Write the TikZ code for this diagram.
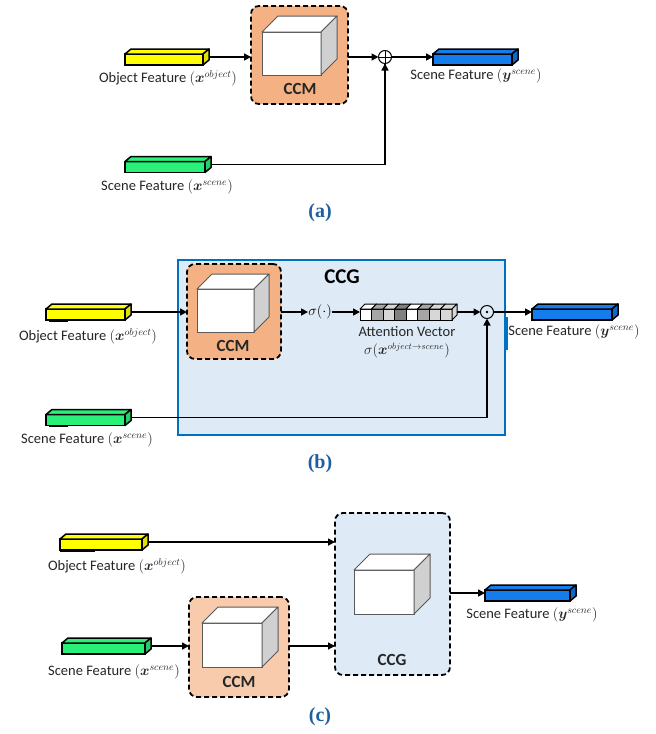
\documentclass[tikz,border=0pt]{standalone}
\usepackage{fontspec}
\usepackage{amsmath}
\usepackage{bm}
\setmainfont{Carlito}
\newfontfamily\capfont{Liberation Serif}
\usetikzlibrary{arrows.meta,calc}

\definecolor{featyellow}{RGB}{255,255,0}
\definecolor{featyellowside}{RGB}{225,225,0}
\definecolor{featgreen}{RGB}{40,240,120}
\definecolor{featgreenside}{RGB}{30,210,100}
\definecolor{featblue}{RGB}{20,125,235}
\definecolor{featblueside}{RGB}{15,105,205}
\definecolor{ccmorange}{RGB}{244,177,131}
\definecolor{ccmpeach}{RGB}{248,203,173}
\definecolor{ccgfill}{RGB}{222,235,247}
\definecolor{ccgborder}{RGB}{0,112,192}
\definecolor{capblue}{RGB}{31,95,160}
\definecolor{cubeside}{RGB}{208,208,208}
\definecolor{cubeedge}{RGB}{90,90,90}
\definecolor{labelgray}{RGB}{38,38,38}
\definecolor{cellmid}{RGB}{166,166,166}
\definecolor{celllight}{RGB}{215,215,215}
\definecolor{celldark}{RGB}{128,128,128}

\tikzset{
  barfront/.style={draw=black, line width=1.5, minimum height=11, inner sep=0, outer sep=0},
  barline/.style={draw=black, line width=1.5, line join=round},
  cubefront/.style={draw=cubeedge, line width=1, fill=white, inner sep=0, outer sep=0},
  cubeline/.style={draw=cubeedge, line width=1, line join=round},
  dashbox/.style={draw=black, line width=1.8, dash pattern=on 5pt off 3pt, rounded corners=8, inner sep=0, outer sep=0},
  arr/.style={line width=1.6, -{Triangle[length=7pt,width=7pt]}},
  thinarr/.style={line width=1.1, -{Triangle[length=7pt,width=7pt]}},
  plainline/.style={line width=1.3},
  lbl/.style={font=\fontsize{14.5}{17}\selectfont, text=labelgray, inner sep=0},
  boxtitle/.style={font=\fontsize{17}{20}\selectfont\bfseries, text=labelgray, inner sep=0},
  captext/.style={font=\fontsize{20}{24}\selectfont\capfont\bfseries, text=capblue, inner sep=0},
  opnode/.style={circle, draw=black, line width=1, minimum size=13, inner sep=0, outer sep=0},
}

% feature bar: name, centre of the front face, width, fill, side fill
\newcommand\featbar[5]{%
  \node[barfront, minimum width=#3, fill=#4] (#1) at #2 {};
  \draw[barline, fill=#4] (#1.north west) -- ++(6,-5) -- ($(#1.north east)+(6,-5)$) -- (#1.north east) -- cycle;
  \draw[barline, fill=#5] (#1.north east) -- ++(6,-5) -- ($(#1.south east)+(6,-5)$) -- (#1.south east) -- cycle;
  \coordinate (#1-out) at ($(#1.east)+(6,-2.5)$);
  \coordinate (#1-in) at ($(#1.west)+(0,-2.5)$);
}

% white cube: name, centre of the front face, width, height, depth
\newcommand\cubebox[5]{%
  \node[cubefront, minimum width=#3, minimum height=#4] (#1) at #2 {};
  \draw[cubeline, fill=white] (#1.north west) -- ++(#5,-#5) -- ($(#1.north east)+(#5,-#5)$) -- (#1.north east) -- cycle;
  \draw[cubeline, fill=cubeside] (#1.north east) -- ++(#5,-#5) -- ($(#1.south east)+(#5,-#5)$) -- (#1.south east) -- cycle;
}

\newcommand\xobj{$(\bm{x}^{object})$}
\newcommand\xscn{$(\bm{x}^{scene})$}
\newcommand\yscn{$(\bm{y}^{scene})$}

\begin{document}
\begin{tikzpicture}[x=1pt, y=-1pt]
\useasboundingbox[fill=white] (0,0) rectangle (656,734);

% ---------------- (a) ----------------
\node[dashbox, fill=ccmorange, minimum width=97, minimum height=98] (ccmA) at (299.5,55) {};
\cubebox{cubeA}{(291.5,53.5)}{59}{43}{16}
\node[boxtitle] (ccmAt) at (300,89) {CCM};

\featbar{objA}{(164,59.5)}{78}{featyellow}{featyellowside}
\node[lbl] (objAl) at (168,78) {Object Feature \xobj};
\featbar{sceneA}{(165,167)}{80}{featgreen}{featgreenside}
\node[lbl] (sceneAl) at (167,187) {Scene Feature \xscn};
\featbar{yA}{(472.5,59.5)}{79}{featblue}{featblueside}
\node[lbl] (yAl) at (476,76) {Scene Feature \yscn};

\node[opnode] (oplus) at (385,57) {};
\draw[line width=1] (oplus.west) -- (oplus.east) (oplus.north) -- (oplus.south);

\draw[arr] (objA-out) -- (objA-out -| ccmA.west);
\draw[arr] (objA-out -| ccmA.east) -- (oplus.west);
\draw[arr] (oplus.east) -- (oplus.east -| yA.west);
\draw[plainline] (sceneA-out) -| (oplus.south);
\draw[arr] ($(oplus.south)+(0,60)$) -- (oplus.south);

\node[captext] (capA) at (320,213) {(a)};

% ---------------- (b) ----------------
\node[draw=ccgborder, line width=2.6, fill=ccgfill, minimum width=327, minimum height=175, inner sep=0, outer sep=0] (ccgB) at (341.5,347.5) {};
\draw[ccgborder, line width=4] (505.5,317) -- (505.5,350);
\node[font=\fontsize{21}{24}\selectfont\bfseries, text=black, inner sep=0] (ccgBt) at (342,277) {CCG};

\node[dashbox, fill=ccmorange, minimum width=94, minimum height=95] (ccmB) at (234,311.5) {};
\cubebox{cubeB}{(225.5,310.5)}{57}{43}{15}
\node[boxtitle] (ccmBt) at (233,346) {CCM};

\featbar{objB}{(85.5,314.5)}{79}{featyellow}{featyellowside}
\draw[line width=2.5] (49,320.5) -- (68,320.5);
\node[lbl] (objBl) at (88,336) {Object Feature \xobj};
\featbar{sceneB}{(85.5,420)}{79}{featgreen}{featgreenside}
\draw[line width=2.5] (49,426) -- (68,426);
\node[lbl] (sceneBl) at (87,440) {Scene Feature \xscn};
\featbar{yB}{(572,314.5)}{80}{featblue}{featblueside}
\node[lbl] (yBl) at (574,332) {Scene Feature \yscn};

\node[lbl, text=black] (sigma) at (320,312) {$\sigma(\cdot)$};

% attention vector
\foreach \c [count=\i] in {white,cellmid,celllight,celldark,white,cellmid,celllight,celllight}{
  \node[barfront, line width=1, minimum width=11.5, fill=\c] (att\i) at ({360+11.5*(\i-0.5)},314.5) {};
  \draw[line width=1, fill=\c, line join=round] (att\i.north west) -- ++(5,-5) -- ($(att\i.north east)+(5,-5)$) -- (att\i.north east) -- cycle;
}
\draw[line width=1, fill=celllight, line join=round] (att8.north east) -- ++(5,-5) -- ($(att8.south east)+(5,-5)$) -- (att8.south east) -- cycle;
\coordinate (att-out) at ($(att8.east)+(5,-2.5)$);
\node[lbl] (attl) at (407,331.5) {Attention Vector};
\node[lbl, font=\fontsize{13.5}{16}\selectfont] (attf) at (407,351) {$\sigma(\bm{x}^{object\rightarrow scene})$};

\node[opnode] (odot) at (487,312) {};
\fill (odot.center) circle (1.4);

\draw[arr] (objB-out) -- (objB-out -| ccmB.west);
\draw[arr] (objB-out -| ccmB.east) -- (sigma.west);
\draw[arr] (sigma.east) -- (sigma.east -| att1.west);
\draw[arr] (att-out) -- (odot.west);
\draw[arr] (odot.east) -- (odot.east -| yB.west);
\draw[plainline] (sceneB-out) -| ($(odot.south)+(0,40)$);
\draw[arr] ($(odot.south)+(0,60)$) -- (odot.south);

\node[captext] (capB) at (320,464) {(b)};

% ---------------- (c) ----------------
\node[dashbox, fill=ccgfill, minimum width=115, minimum height=162] (ccgC) at (392.5,594) {};
\cubebox{cubeC2}{(384,592)}{60}{44}{16}
\node[boxtitle] (ccgCt) at (392,660) {CCG};

\node[dashbox, fill=ccmpeach, minimum width=100, minimum height=100] (ccmC) at (239,647) {};
\cubebox{cubeC1}{(232,645)}{60}{44}{16}
\node[boxtitle] (ccmCt) at (239,682) {CCM};

\featbar{objC}{(101,544.5)}{82}{featyellow}{featyellowside}
\draw[line width=2.5] (60,550.5) -- (95,550.5);
\node[lbl] (objCl) at (117,566) {Object Feature \xobj};
\featbar{sceneC}{(103.5,648.5)}{83}{featgreen}{featgreenside}
\node[lbl] (sceneCl) at (114,672) {Scene Feature \xscn};
\featbar{yC}{(527.5,595.5)}{85}{featblue}{featblueside}
\node[lbl] (yCl) at (532,615) {Scene Feature \yscn};

\draw[arr] (objC-out) -- (objC-out -| ccgC.west);
\draw[arr] (sceneC-out) -- (sceneC-out -| ccmC.west);
\draw[thinarr] (sceneC-out -| ccmC.east) -- (sceneC-out -| ccgC.west);
\draw[arr] (yC-in -| ccgC.east) -- (yC-in);

\node[captext] (capC) at (320,717) {(c)};
\end{tikzpicture}
\end{document}
